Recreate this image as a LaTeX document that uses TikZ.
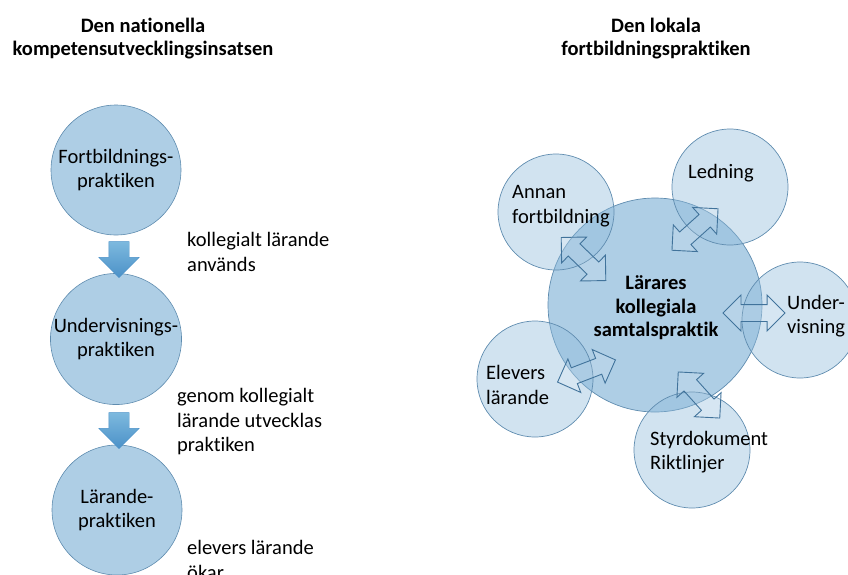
\documentclass[tikz,border=0pt]{standalone}
\usepackage{fontspec}
\setmainfont[Ligatures=NoCommon]{Carlito}
\usetikzlibrary{shapes.arrows,positioning}

\definecolor{praxfill}{RGB}{174,206,229}
\definecolor{praxline}{RGB}{95,140,175}
\definecolor{lokfill}{RGB}{140,185,218}
\definecolor{pilline}{RGB}{65,115,155}
\definecolor{piltop}{RGB}{125,185,222}
\definecolor{pilbot}{RGB}{75,145,200}

\begin{document}
\begin{tikzpicture}[
    x=1pt, y=-1pt,
    font=\fontsize{20.5}{24.5}\selectfont,
    rubrik/.style    = {font=\bfseries\fontsize{20.5}{23}\selectfont,
                        align=center, inner sep=0pt},
    praxis/.style    = {circle, draw=praxline, line width=0.6pt,
                        fill=praxfill, minimum size=130pt, inner sep=0pt,
                        align=center},
    notis/.style     = {align=left, anchor=west, inner sep=0pt},
    nedpil/.style    = {single arrow, shape border rotate=270,
                        draw=pilbot, line width=0.4pt,
                        top color=piltop, bottom color=pilbot,
                        minimum height=36pt, minimum width=40pt,
                        single arrow head extend=10pt,
                        inner xsep=10pt, inner ysep=0pt},
    karna/.style     = {circle, draw=praxline, line width=0.7pt,
                        fill=lokfill, fill opacity=0.7,
                        minimum size=214pt, inner sep=0pt},
    runt/.style      = {circle, draw=praxline, line width=0.7pt,
                        fill=lokfill, fill opacity=0.4,
                        minimum size=116pt, inner sep=0pt},
    dubbelpil/.style = {double arrow, draw=pilline, line width=0.9pt,
                        fill=white, fill opacity=0.12,
                        minimum height=62pt, minimum width=35pt,
                        double arrow head extend=9.5pt,
                        inner xsep=0pt, inner ysep=8pt},
    etikett/.style   = {align=left, anchor=west, inner sep=0pt},
  ]
  \useasboundingbox (0,0) rectangle (848,574);

  % rubriker
  \node[rubrik] (natrubrik) at (143,39) {Den nationella\\kompetensutvecklingsinsatsen};
  \node[rubrik] (lokrubrik) at (656,39) {Den lokala\\fortbildningspraktiken};

  % den nationella insatsen
  \node[praxis] (fortb)   at (116,170) {Fortbildnings-\\praktiken};
  \node[praxis] (underv)  at (116,339) {Undervisnings-\\praktiken};
  \node[praxis] (larande) at (117,510) {Lärande-\\praktiken};

  \node[nedpil] (pil1) at (119,254.5) {};
  \node[nedpil] (pil2) at (119,425.5) {};

  \node[notis] (not1) at (187,252) {kollegialt lärande\\används};
  \node[notis] (not2) at (177,422) {genom kollegialt\\lärande utvecklas\\praktiken};
  \node[notis] (not3) at (187,560) {elevers lärande\\ökar};

  % den lokala praktiken
  \node[karna] (samtal) at (655,305) {};
  \node[runt] (annan)  at (556,212) {};
  \node[runt] (ledn)   at (730,187) {};
  \node[runt] (undv)   at (800,320) {};
  \node[runt] (elev)   at (535,379) {};
  \node[runt] (styr)   at (692,450) {};

  \node[dubbelpil, rotate=-44] (dpannan) at (583.5,259) {};
  \node[dubbelpil, rotate=42]  (dpledn)  at (695,229.5) {};
  \node[dubbelpil]             (dpundv)  at (754,313) {};
  \node[dubbelpil, rotate=21]  (dpelev)  at (586.5,371) {};
  \node[dubbelpil, rotate=-48] (dpstyr)  at (699,395) {};

  \node[font=\bfseries\fontsize{20.5}{23.5}\selectfont, align=center,
        inner sep=0pt] (samtalT) at (656,308) {Lärares\\kollegiala\\samtalspraktik};
  \node[etikett] (annanT) at (512,206) {Annan\\fortbildning};
  \node[etikett] (lednT)  at (688,173) {Ledning};
  \node[etikett] (undvT)  at (787,316) {Under-\\visning};
  \node[etikett] (elevT)  at (486,385) {Elevers\\lärande};
  \node[etikett] (styrT)  at (650,452) {Styrdokument\\Riktlinjer};

\end{tikzpicture}
\end{document}
